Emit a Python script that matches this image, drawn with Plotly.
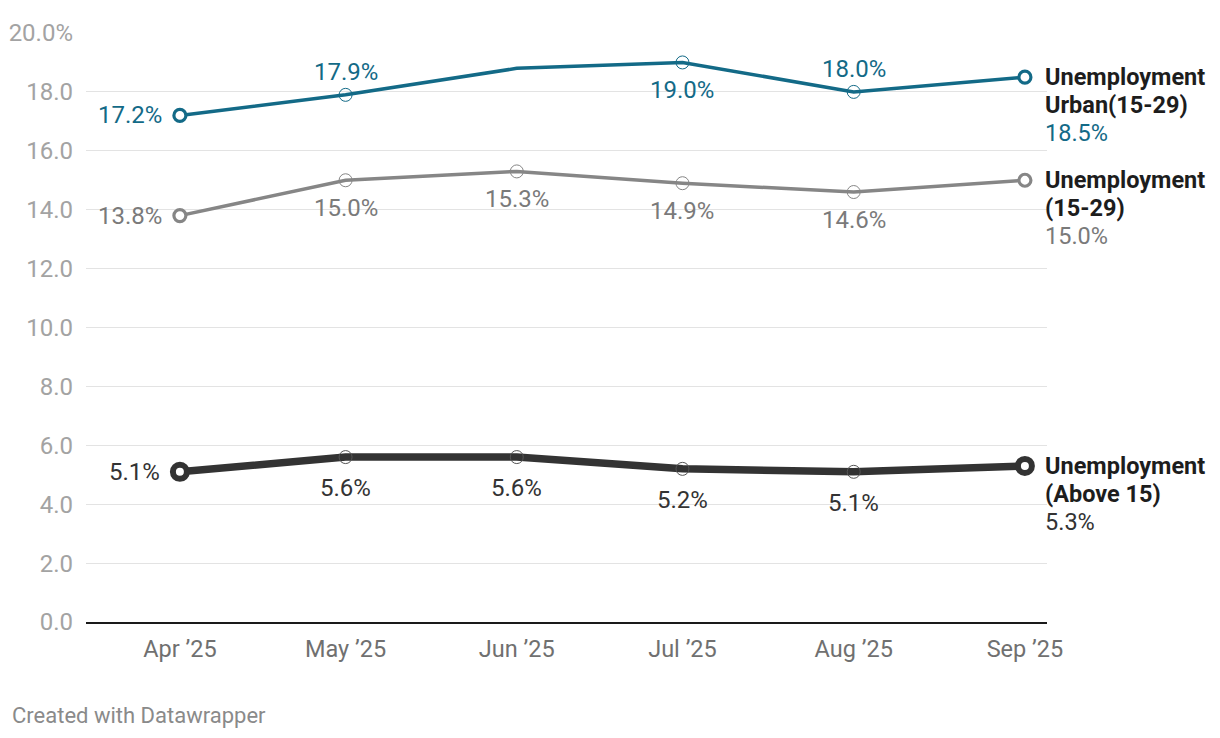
import plotly.graph_objects as go

# ---- data ----
dates = ["2025-04-01", "2025-05-01", "2025-06-01", "2025-07-01", "2025-08-01", "2025-09-01"]
month_labels = ["Apr ’25", "May ’25", "Jun ’25", "Jul ’25", "Aug ’25", "Sep ’25"]

urban_15_29 = [17.2, 17.9, 18.8, 19.0, 18.0, 18.5]
all_15_29 = [13.8, 15.0, 15.3, 14.9, 14.6, 15.0]
above_15 = [5.1, 5.6, 5.6, 5.2, 5.1, 5.3]

series_names = [["Unemployment", "Urban(15-29)"], ["Unemployment", "(15-29)"], ["Unemployment", "(Above 15)"]]

y_tick_vals = [0, 2, 4, 6, 8, 10, 12, 14, 16, 18, 20]
y_tick_text = ["0.0", "2.0", "4.0", "6.0", "8.0", "10.0", "12.0", "14.0", "16.0", "18.0", "20.0%"]

# ---- styles ----
FONT = "Roboto"
LABEL_SIZE = 24
NAME_SIZE = 23.5
styles = [
    dict(values=urban_15_29, color="#136a87", label_color="#136a87", width=3.5,
         end_size=12, end_lw=3.2, mid_color="#136a87",
         placement=["left", "top", None, "bottom", "top", None]),
    dict(values=all_15_29, color="#868686", label_color="#7a7a7a", width=3.5,
         end_size=12, end_lw=3.2, mid_color="#868686",
         placement=["left", "bottom", "bottom", "bottom", "bottom", None]),
    dict(values=above_15, color="#333333", label_color="#333333", width=7.5,
         end_size=14, end_lw=6, mid_color="#555555",
         placement=["left", "bottom", "bottom", "bottom", "bottom", None]),
]

fig = go.Figure()
annotations = []

for s, names in zip(styles, series_names):
    vals = s["values"]
    fig.add_trace(go.Scatter(x=dates, y=vals, mode="lines",
                             line=dict(color=s["color"], width=s["width"]),
                             hoverinfo="skip", showlegend=False, cliponaxis=False))
    mid_x = [d for i, d in enumerate(dates) if 0 < i < len(dates) - 1 and s["placement"][i]]
    mid_y = [v for i, v in enumerate(vals) if 0 < i < len(vals) - 1 and s["placement"][i]]
    fig.add_trace(go.Scatter(x=mid_x, y=mid_y, mode="markers",
                             marker=dict(symbol="circle-open", size=13,
                                         color=s["mid_color"], line=dict(width=1)),
                             hoverinfo="skip", showlegend=False, cliponaxis=False))
    fig.add_trace(go.Scatter(x=[dates[0], dates[-1]], y=[vals[0], vals[-1]], mode="markers",
                             marker=dict(symbol="circle", size=s["end_size"], color="white",
                                         line=dict(color=s["color"], width=s["end_lw"])),
                             hoverinfo="skip", showlegend=False, cliponaxis=False))
    for i, (d, v) in enumerate(zip(dates, vals)):
        p = s["placement"][i]
        if not p:
            continue
        a = dict(x=d, y=v, xref="x", yref="y", text=f"{v:.1f}%", showarrow=False,
                 font=dict(family=FONT, size=LABEL_SIZE, color=s["label_color"]))
        if p == "left":
            a.update(xanchor="right", yanchor="middle", xshift=-16 if s["width"] < 5 else -18)
        elif p == "top":
            a.update(xanchor="center", yanchor="middle", yshift=23)
        else:
            a.update(xanchor="center", yanchor="middle", yshift=-28 if s["width"] < 5 else -31)
        annotations.append(a)
    for j, nm in enumerate(names):
        annotations.append(dict(x=dates[-1], y=vals[-1], xref="x", yref="y",
                                text=f"<b>{nm}</b>", showarrow=False,
                                xanchor="left", yanchor="middle", xshift=18, yshift=-28 * j,
                                font=dict(family=FONT, size=NAME_SIZE, color="#1d1d1d")))
    annotations.append(dict(x=dates[-1], y=vals[-1], xref="x", yref="y",
                            text=f"{vals[-1]:.1f}%", showarrow=False,
                            xanchor="left", yanchor="middle", xshift=18, yshift=-56,
                            font=dict(family=FONT, size=NAME_SIZE, color=s["label_color"])))

annotations.append(dict(x=-76 / 961, y=-93 / 589, xref="paper", yref="paper",
                        text="Created with Datawrapper", showarrow=False,
                        xanchor="left", yanchor="middle",
                        font=dict(family=FONT, size=22, color="#8a8a8a")))

fig.update_layout(
    width=1212, height=730,
    margin=dict(l=78, r=173, t=25, b=116),
    paper_bgcolor="white", plot_bgcolor="white",
    font=dict(family=FONT),
    annotations=annotations,
    xaxis=dict(type="date", range=["2025-03-15", "2025-09-05"],
               tickvals=dates, ticktext=month_labels, automargin=False,
               showgrid=False, zeroline=False,
               showline=True, linecolor="#1a1a1a", linewidth=2,
               ticks="", ticklabelstandoff=5,
               tickfont=dict(family=FONT, size=23.5, color="#707070")),
    yaxis=dict(range=[0, 20], tickvals=y_tick_vals, ticktext=y_tick_text, automargin=False,
               showgrid=True, gridcolor="#e3e3e3", gridwidth=1,
               zeroline=False, showline=False, ticks="", ticklabelstandoff=12,
               tickfont=dict(family=FONT, size=24, color="#a3a3a3")),
    hovermode=False,
)

fig.write_html("out.html")
